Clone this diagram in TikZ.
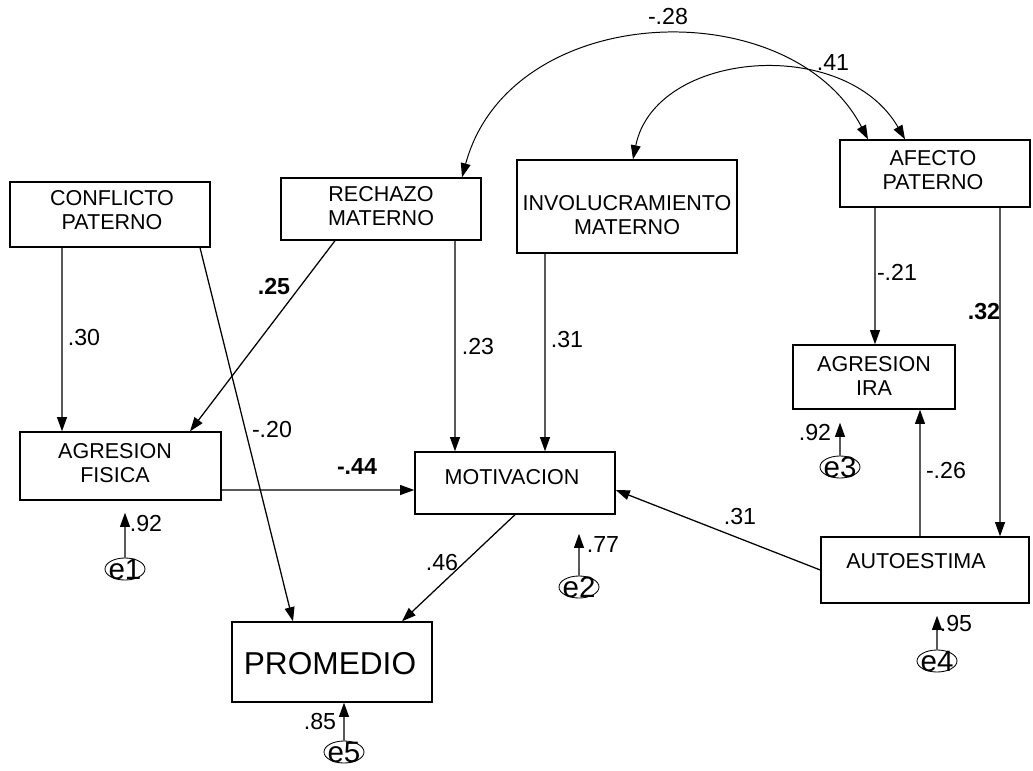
\documentclass[tikz,border=0pt]{standalone}
\usepackage{fontspec}
\setmainfont{Liberation Sans}
\usetikzlibrary{arrows.meta,shapes.geometric}
\begin{document}
\begin{tikzpicture}[x=0.025cm,y=-0.025cm,
  box/.style={draw,line width=1pt,inner sep=0pt},
  btext/.style={align=center,inner sep=0pt,font=\fontsize{15.3}{17}\selectfont},
  arr/.style={line width=0.9pt,-{Triangle[length=10pt,width=7pt]}},
  darr/.style={line width=0.7pt,{Triangle[length=10pt,width=7pt]}-{Triangle[length=10pt,width=7pt]}},
  lab/.style={font=\fontsize{16.5}{16.5}\selectfont,inner sep=0pt},
  blab/.style={lab,font=\fontsize{16.5}{16.5}\selectfont\bfseries},
  err/.style={draw,ellipse,line width=0.6pt,minimum width=1cm,minimum height=0.55cm,inner sep=0pt},
  etext/.style={font=\fontsize{21}{21}\selectfont,inner sep=0pt}]
\useasboundingbox (0,0) rectangle (1033,770);
% boxes
\node[box,minimum width=5cm,minimum height=1.625cm] (conf) at (110,214.5) {};
\node[btext] (conf-t) at (112,210) {CONFLICTO\\PATERNO};
\node[box,minimum width=5cm,minimum height=1.55cm] (rech) at (381,209) {};
\node[btext] (rech-t) at (381,206) {RECHAZO\\MATERNO};
\node[box,minimum width=5.5cm,minimum height=2.325cm] (inv) at (627,206.5) {};
\node[btext] (inv-t) at (627,215.5) {INVOLUCRAMIENTO\\MATERNO};
\node[box,minimum width=4.75cm,minimum height=1.675cm] (afe) at (935,173.5) {};
\node[btext] (afe-t) at (933,170) {AFECTO\\PATERNO};
\node[box,minimum width=4.05cm,minimum height=1.6cm] (ira) at (874,377) {};
\node[btext] (ira-t) at (874,376) {AGRESION\\IRA};
\node[box,minimum width=5.025cm,minimum height=1.7cm] (fis) at (120.5,466) {};
\node[btext] (fis-t) at (115,463) {AGRESION\\FISICA};
\node[box,minimum width=5cm,minimum height=1.55cm] (mot) at (515,483) {};
\node[btext] (mot-t) at (512,477) {MOTIVACION};
\node[box,minimum width=5.2cm,minimum height=1.65cm] (aut) at (925,570) {};
\node[btext] (aut-t) at (916,561) {AUTOESTIMA};
\node[box,minimum width=5cm,minimum height=2cm] (prom) at (332,662) {};
\node[btext,font=\fontsize{22.5}{22.5}\selectfont] (prom-t) at (330,664) {PROMEDIO};
% paths
\draw[arr] ([xshift=-1.2cm]conf.south) -- ([xshift=-1.4625cm]fis.north);
\draw[arr] ([xshift=2.25cm]conf.south) -- ([xshift=-0.975cm]prom.north);
\draw[arr] ([xshift=-1.15cm]rech.south) -- ([xshift=1.7375cm]fis.north);
\draw[arr] ([xshift=1.85cm]rech.south) -- ([xshift=-1.5cm]mot.north);
\draw[arr] ([xshift=-2.05cm]inv.south) -- ([xshift=0.75cm]mot.north);
\draw[arr] ([xshift=-1.5cm]afe.south) -- ([xshift=0.025cm]ira.north);
\draw[arr] ([xshift=1.625cm]afe.south) -- ([xshift=1.875cm]aut.north);
\draw[arr] ([xshift=-0.125cm]aut.north) -- ([xshift=1.15cm]ira.south);
\draw[arr] (aut.west) -- ([yshift=-0.175cm]mot.east);
\draw[arr] ([yshift=-0.6cm]fis.east) -- ([yshift=-0.175cm]mot.west);
\draw[arr] (mot.south) -- ([xshift=1.75cm]prom.north);
% covariances
\draw[darr] ([xshift=2.025cm]rech.north) .. controls (510,0) and (790,-10) .. ([xshift=-1.675cm]afe.north);
\draw[darr] ([xshift=0.15cm]inv.north) .. controls (655,50) and (845,35) .. ([xshift=-0.75cm]afe.north);
% errors
\node[err] (e1) at (125,569) {}; \node[etext] (e1-t) at (125,569) {e1};
\node[err] (e2) at (579,587) {}; \node[etext] (e2-t) at (579,587) {e2};
\node[err] (e3) at (840,467) {}; \node[etext] (e3-t) at (840,467) {e3};
\node[err] (e4) at (937,661) {}; \node[etext] (e4-t) at (937,661) {e4};
\node[err] (e5) at (344,752) {}; \node[etext] (e5-t) at (344,752) {e5};
\draw[arr] (e1.north) -- ([xshift=0.1125cm,yshift=-0.3cm]fis.south);
\draw[arr] (e2.north) -- ([xshift=1.6cm,yshift=-0.475cm]mot.south);
\draw[arr] (e3.north) -- ([xshift=-0.85cm,yshift=-0.325cm]ira.south);
\draw[arr] (e4.north) -- ([xshift=0.3cm,yshift=-0.3cm]aut.south);
\draw[arr] (e5.north) -- ([xshift=0.3cm]prom.south);
% labels
\node[lab] (l1) at (84,338) {.30};
\node[lab] (l2) at (272,430) {-.20};
\node[blab] (l3) at (274,287) {.25};
\node[lab] (l4) at (478,347) {.23};
\node[lab] (l5) at (567,340) {.31};
\node[lab] (l6) at (897,272) {-.21};
\node[blab] (l7) at (984,312) {.32};
\node[blab] (l8) at (357,467) {-.44};
\node[lab] (l9) at (946,471) {-.26};
\node[lab] (l10) at (740,517) {.31};
\node[lab] (l11) at (442,563) {.46};
\node[lab] (l12) at (146,524) {.92};
\node[lab] (l13) at (603,545) {.77};
\node[lab] (l14) at (815,433) {.92};
\node[lab] (l15) at (956,624) {.95};
\node[lab] (l16) at (320,722) {.85};
\node[lab] (l17) at (668,17) {-.28};
\node[lab] (l18) at (833,63) {.41};
\end{tikzpicture}
\end{document}
